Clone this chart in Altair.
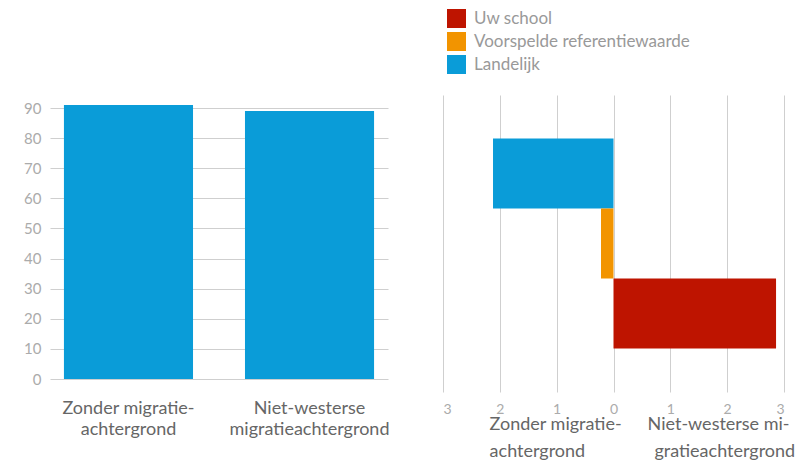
import altair as alt
import pandas as pd

# ---- data ----
left_categories = ["Zonder migratieachtergrond", "Niet-westerse migratieachtergrond"]
left_values = [91, 89]

right_series = ["Landelijk", "Voorspelde referentiewaarde", "Uw school"]
right_start = [-2.12, -0.22, 0.0]
right_end = [0.0, 0.0, 2.86]

legend_order = ["Uw school", "Voorspelde referentiewaarde", "Landelijk"]
legend_colors = ["#BE1400", "#F29400", "#0A9CD8"]

x_ticks = [-3, -2, -1, 0, 1, 2, 3]
y_ticks = [0, 10, 20, 30, 40, 50, 60, 70, 80, 90]

right_label_line1 = ["Zonder migratie-", "Niet-westerse mi-"]
right_label_line1_x = [-2.18, 0.60]
right_label_line2 = ["achtergrond", "gratieachtergrond"]
right_label_line2_x = [-2.18, 0.72]

FONT = "Lato"
GRID = "#cfcfcf"
TICKLBL = "#ababab"
CATLBL = "#666666"

left_df = pd.DataFrame({"cat": left_categories, "val": left_values})
right_df = pd.DataFrame({"serie": right_series, "start": right_start, "end": right_end})
l1_df = pd.DataFrame({"t": right_label_line1, "x": right_label_line1_x})
l2_df = pd.DataFrame({"t": right_label_line2, "x": right_label_line2_x})

left = alt.Chart(left_df).mark_bar(color="#0A9CD8").encode(
    x=alt.X("cat:N", sort=left_categories,
            scale=alt.Scale(range=[42, 380], paddingInner=0.287, paddingOuter=0.077),
            axis=alt.Axis(orient="bottom", title=None, ticks=False, domain=False, grid=False,
                          labelAngle=0, labelPadding=7, labelFontSize=18, labelColor=CATLBL,
                          labelFont=FONT, labelLineHeight=21, labelBaseline="top",
                          labelExpr="datum.value == 'Zonder migratieachtergrond' ? ['Zonder migratie-', 'achtergrond'] : ['Niet-westerse', 'migratieachtergrond']")),
    y=alt.Y("val:Q", scale=alt.Scale(domain=[0, 91], range=[371, 97], nice=False, zero=True),
            axis=alt.Axis(orient="left", title=None, values=y_ticks, ticks=False, domain=False,
                          grid=True, gridColor=GRID, gridWidth=1, offset=-42, labelPadding=9,
                          labelFontSize=15, labelColor=TICKLBL, labelFont=FONT)),
)

def xscale():
    return alt.Scale(domain=[-3, 3], range=[435, 776], nice=False, zero=False)

# bars carry the grid (top-oriented axis, labels hidden)
bars = alt.Chart(right_df).mark_bar().encode(
    x=alt.X("start:Q", scale=xscale(),
            axis=alt.Axis(orient="top", title=None, values=x_ticks, ticks=False, domain=False,
                          labels=False, grid=True, gridColor=GRID, gridWidth=1)),
    x2="end:Q",
    y=alt.Y("serie:N", sort=right_series,
            scale=alt.Scale(range=[87, 384], paddingInner=0, paddingOuter=0.62),
            axis=None),
    color=alt.Color("serie:N", scale=alt.Scale(domain=legend_order, range=legend_colors),
                    legend=alt.Legend(orient="none", legendX=439, legendY=1, title=None,
                                      symbolType="square", symbolSize=361, symbolStrokeWidth=0,
                                      symbolOpacity=1, labelFontSize=17, labelColor="#999999",
                                      labelFont=FONT, labelOffset=8, rowPadding=4, padding=0,
                                      labelLimit=400, direction="vertical")),
)

# first label row carries the bottom tick labels
lab1 = alt.Chart(l1_df).mark_text(align="left", baseline="middle", fontSize=18,
                                   color=CATLBL, font=FONT).encode(
    x=alt.X("x:Q", scale=xscale(),
            axis=alt.Axis(orient="bottom", title=None, values=x_ticks, ticks=False, domain=False,
                          grid=False, labelPadding=10, labelFontSize=14, labelColor=TICKLBL,
                          labelFont=FONT, labelExpr="abs(datum.value)")),
    y=alt.value(417), text="t:N")
lab2 = alt.Chart(l2_df).mark_text(align="left", baseline="middle", fontSize=18,
                                   color=CATLBL, font=FONT).encode(
    x=alt.X("x:Q", scale=xscale(), axis=None),
    y=alt.value(444), text="t:N")

chart = alt.layer(left, bars, lab1, lab2).resolve_scale(
    x="independent", y="independent"
).resolve_axis(x="independent", y="independent").properties(
    width=787, height=384,
    autosize=alt.AutoSizeParams(type="none"),
    padding={"left": 0, "top": 0, "right": 0, "bottom": 70},
).configure(font=FONT).configure_view(strokeWidth=0, stroke="transparent")

chart.save("out.html", embed_options={"renderer": "svg", "actions": False})
